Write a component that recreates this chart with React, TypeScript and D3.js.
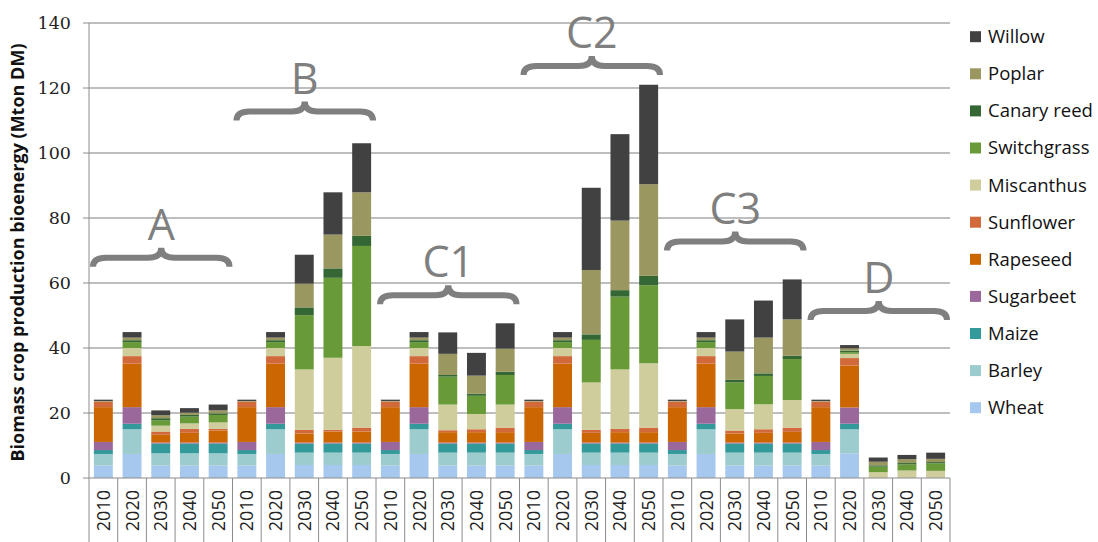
import React from "react";
import * as d3 from "d3";

const years = ["2010", "2020", "2030", "2040", "2050"];
const groups = ["A", "B", "C1", "C2", "C3", "D"];
const braceLevels = [65, 110, 53.5, 124, 70, 48.6];

const seriesNames = ["Wheat", "Barley", "Maize", "Sugarbeet", "Rapeseed", "Sunflower", "Miscanthus", "Switchgrass", "Canary reed", "Poplar", "Willow"];
const seriesColors = ["#a7c8ee", "#9ccccd", "#33999a", "#9a689b", "#cc6600", "#d1693a", "#cfcd9c", "#689a37", "#356734", "#9a9760", "#414141"];

const wheat = [3.8, 7.4, 3.8, 3.8, 3.8, 3.8, 7.4, 4.0, 4.0, 4.0, 3.8, 7.4, 3.8, 3.8, 3.8, 3.8, 7.4, 4.0, 4.0, 4.0, 3.8, 7.4, 3.8, 3.8, 3.8, 3.8, 7.6, 0, 0, 0];
const barley = [3.6, 7.6, 3.8, 3.8, 3.8, 3.6, 7.6, 3.8, 3.8, 3.8, 3.6, 7.6, 4.0, 4.0, 4.0, 3.6, 7.6, 3.8, 3.8, 3.8, 3.6, 7.6, 4.0, 4.0, 4.0, 3.6, 7.4, 0, 0, 0];
const maize = [1.2, 1.7, 3.0, 3.0, 3.0, 1.2, 1.7, 2.8, 2.8, 2.8, 1.2, 1.7, 2.8, 2.8, 2.8, 1.2, 1.7, 2.8, 2.8, 2.8, 1.2, 1.7, 2.8, 2.8, 2.8, 1.2, 1.7, 0, 0, 0];
const sugarbeet = [2.5, 5.1, 0.3, 0.3, 0.3, 2.5, 5.1, 0.3, 0.3, 0.3, 2.5, 5.1, 0.3, 0.3, 0.3, 2.5, 5.1, 0.3, 0.3, 0.3, 2.5, 5.1, 0.3, 0.3, 0.3, 2.5, 5.0, 0, 0, 0];
const rapeseed = [10.7, 13.4, 2.4, 3.0, 3.7, 10.7, 13.4, 2.8, 3.4, 3.4, 10.7, 13.4, 3.2, 3.2, 3.2, 10.7, 13.4, 3.0, 3.2, 3.2, 10.7, 13.4, 2.8, 3.0, 3.3, 10.7, 12.9, 0, 0, 0];
const sunflower = [1.7, 2.3, 1.0, 1.2, 0.5, 1.7, 2.3, 1.1, 0.5, 1.2, 1.7, 2.3, 0.6, 0.9, 1.4, 1.7, 2.3, 0.9, 1.0, 1.4, 1.7, 2.3, 0.9, 1.1, 1.3, 1.7, 2.3, 0, 0, 0];
const miscanthus = [0, 2.5, 1.8, 1.7, 2.0, 0, 2.5, 18.6, 22.2, 25.1, 0, 2.5, 7.9, 4.7, 7.1, 0, 2.5, 14.6, 18.3, 19.8, 0, 2.5, 6.6, 7.7, 8.5, 0, 1.3, 1.8, 2.3, 2.2];
const switchgrass = [0, 1.8, 1.7, 2.1, 2.3, 0, 1.8, 16.7, 24.6, 30.8, 0, 1.8, 8.6, 5.6, 9.1, 0, 1.8, 13.1, 22.4, 24.0, 0, 1.8, 8.2, 8.7, 12.6, 0, 0.5, 1.7, 1.9, 2.3];
const canaryReed = [0, 0.6, 0.6, 0.5, 0.5, 0, 0.6, 2.4, 2.9, 3.1, 0, 0.6, 0.5, 0.6, 1.0, 0, 0.6, 1.7, 2.0, 2.9, 0, 0.6, 0.8, 0.8, 1.0, 0, 0.5, 0.4, 0.4, 0.4];
const poplar = [0.2, 0.8, 0.9, 0.7, 0.9, 0.2, 0.8, 7.3, 10.4, 13.4, 0.2, 0.8, 6.5, 5.6, 7.1, 0.2, 0.8, 19.8, 21.4, 28.2, 0.2, 0.8, 8.7, 11.0, 11.2, 0.2, 0.7, 1.1, 1.2, 1.0];
const willow = [0.4, 1.7, 1.5, 1.4, 1.8, 0.4, 1.7, 8.9, 13.0, 15.1, 0.4, 1.7, 6.6, 7.0, 7.8, 0.4, 1.7, 25.3, 26.6, 30.6, 0.4, 1.7, 9.9, 11.4, 12.3, 0.4, 1.0, 1.3, 1.3, 1.9];

const yTicks = [0, 20, 40, 60, 80, 100, 120, 140];

const seriesValues = [wheat, barley, maize, sugarbeet, rapeseed, sunflower, miscanthus, switchgrass, canaryReed, poplar, willow];

export default function App() {
  const W = 1098, H = 542;
  const left = 89, right = 950, top = 23, bottom = 478;
  const cats = groups.flatMap((g) => years.map((y) => `${g}-${y}`));
  const rows = cats.map((c, i) => {
    const r: any = { key: c, year: c.split("-")[1] };
    seriesNames.forEach((s, k) => (r[s] = seriesValues[k][i]));
    return r;
  });
  const x = d3.scaleBand<string>().domain(cats).range([left, right]).paddingInner(0.34).paddingOuter(0.17);
  const y = d3.scaleLinear().domain([0, 140]).range([bottom, top]);
  const stacked = d3.stack<any>().keys(seriesNames)(rows);
  const step = x.step();
  const bounds = d3.range(cats.length + 1).map((i) => left + i * step);
  const gridColor = "#a8a8a8";
  const axisColor = "#8c8c8c";

  const brace = (x0: number, x1: number, yb: number) => {
    const ym = yb - 9;
    const yt = yb - 19;
    const xc = (x0 + x1) / 2;
    const r = 13;
    return `M${x0},${yb} Q${x0},${ym} ${x0 + r},${ym} L${xc - r},${ym} Q${xc},${ym} ${xc},${yt} Q${xc},${ym} ${xc + r},${ym} L${x1 - r},${ym} Q${x1},${ym} ${x1},${yb}`;
  };

  return (
    <svg width={W} height={H} style={{ position: "fixed", left: 0, top: 0, background: "#fff" }}>
      {yTicks.map((t) => (
        <g key={t}>
          {t > 0 && <line x1={left} x2={right} y1={y(t)} y2={y(t)} stroke={gridColor} strokeWidth={1.5} />}
          <line x1={left - 6} x2={left} y1={y(t)} y2={y(t)} stroke={axisColor} strokeWidth={1} />
          <text x={71} y={y(t)} dy="0.35em" textAnchor="end" fontFamily="'DejaVu Serif', 'Liberation Serif', serif" fontSize={17.5} fill="#222">{t}</text>
        </g>
      ))}
      <line x1={left} x2={left} y1={top} y2={bottom} stroke={axisColor} strokeWidth={1} />
      {stacked.map((layer, k) => (
        <g key={seriesNames[k]} fill={seriesColors[k]}>
          {layer.map((d, i) => {
            const h = y(d[0]) - y(d[1]);
            if (h <= 0) return null;
            return <rect key={i} x={x(cats[i])} y={y(d[1])} width={x.bandwidth()} height={h} />;
          })}
        </g>
      ))}
      <line x1={left} x2={right} y1={bottom} y2={bottom} stroke={axisColor} strokeWidth={1.2} />
      {bounds.map((b, i) => (
        <line key={i} x1={b} x2={b} y1={bottom} y2={H} stroke={axisColor} strokeWidth={1} />
      ))}
      {cats.map((c, i) => (
        <text key={c} transform={`translate(${(x(c) as number) + x.bandwidth() / 2 + 6.5},${bottom + 12}) rotate(-90)`} textAnchor="end" fontFamily="'Open Sans', sans-serif" fontSize={18} fill="#222">{rows[i].year}</text>
      ))}
      <text transform={`translate(24,${(top + bottom) / 2 + 2}) rotate(-90)`} textAnchor="middle" fontFamily="'Open Sans', sans-serif" fontWeight="bold" fontSize={18} fill="#111">Biomass crop production bioenergy (Mton DM)</text>
      {groups.map((g, gi) => {
        const x0 = bounds[gi * 5] + 4;
        const x1 = bounds[gi * 5 + 5] - 3;
        const yb = y(braceLevels[gi]);
        return (
          <g key={g}>
            <path d={brace(x0, x1, yb)} fill="none" stroke="#7f7f7f" strokeWidth={6} />
            <text x={(x0 + x1) / 2} y={yb - 27} textAnchor="middle" fontFamily="'Open Sans', sans-serif" fontSize={43} fill="#7f7f7f">{g}</text>
          </g>
        );
      })}
      {seriesNames.slice().reverse().map((s, i) => {
        const k = seriesNames.length - 1 - i;
        const cy = 36.7 + i * 37.1;
        return (
          <g key={s}>
            <rect x={970} y={cy - 5.5} width={11} height={11} fill={seriesColors[k]} />
            <text x={988} y={cy} dy="0.35em" fontFamily="'Open Sans', sans-serif" fontSize={18.5} fill="#111">{s}</text>
          </g>
        );
      })}
    </svg>
  );
}
